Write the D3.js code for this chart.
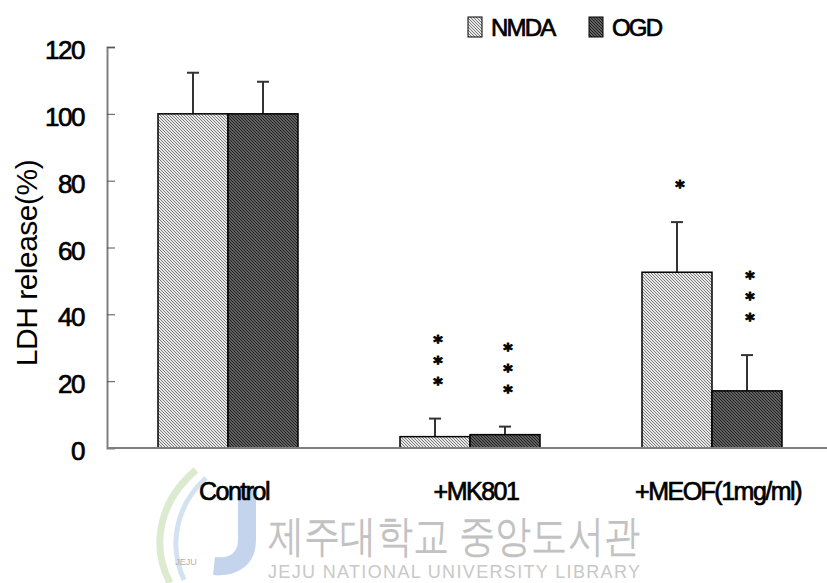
<!DOCTYPE html>
<html>
<head>
<meta charset="utf-8">
<script src="https://cdn.jsdelivr.net/npm/d3@7"></script>
<style>
  body { margin: 0; background: #fff; }
  text { font-family: "Liberation Sans", Arial, sans-serif; fill: #000; }
  .heavy { stroke: #000; stroke-width: 0.7px; }
  .star { font-family: "DejaVu Sans", sans-serif; stroke: #000; stroke-width: 0.9px; }
</style>
</head>
<body>
<script>
// data
let categories = ['Control', '+MK801', '+MEOF(1mg/ml)'];
let seriesNames = ['NMDA', 'OGD'];
let nmdaValues = [100, 3.4, 52.6];
let nmdaErrors = [12.3, 5.4, 15.0];
let ogdValues = [100, 4.0, 17.1];
let ogdErrors = [9.6, 2.4, 10.7];
let nmdaStars = [0, 3, 1];
let ogdStars = [0, 3, 3];
let yTicks = [0, 20, 40, 60, 80, 100, 120];

let svgWidth = 827, svgHeight = 583;
let barWidth = 70;

let svg = d3.select('body').append('svg')
svg.attr('width', svgWidth).attr('height', svgHeight)

// hatch patterns
let defs = svg.append('defs');
function hatch(id, bg, fg) {
    let p = defs.append('pattern').attr('id', id)
        .attr('patternUnits', 'userSpaceOnUse')
        .attr('width', 3).attr('height', 3)
        .attr('shape-rendering', 'crispEdges');
    p.append('rect').attr('width', 3).attr('height', 3).attr('fill', bg);
    [0, 1, 2].forEach(i => {
        p.append('rect').attr('x', i).attr('y', i).attr('width', 1).attr('height', 1).attr('fill', fg);
    });
}
hatch('pNMDA', '#e8e8e8', '#7a7a7a');
hatch('pOGD', '#626262', '#1e1e1e');
let fills = { NMDA: 'url(#pNMDA)', OGD: 'url(#pOGD)' };

// watermark (faint, behind everything)
let wm = svg.append('g');
wm.append('path').attr('d', 'M196,470 C160,500 150,545 170,583')
    .attr('fill', 'none').attr('stroke', '#dcebd0').attr('stroke-width', 7);
wm.append('path').attr('d', 'M206,478 C176,505 168,545 184,580')
    .attr('fill', 'none').attr('stroke', '#d3e2f0').attr('stroke-width', 5);
wm.append('path').attr('d', 'M247,487 L247,540 C247,560 232,568 214,566')
    .attr('fill', 'none').attr('stroke', '#c4d4ec').attr('stroke-width', 18);
wm.append('text').text('JEJU').attr('x', 186).attr('y', 565)
    .attr('font-size', 9).attr('text-anchor', 'middle').style('fill', '#b0b0b0');
wm.append('text').text('제주대학교 중앙도서관')
    .attr('x', 268).attr('y', 551)
    .attr('font-family', '"Noto Sans CJK KR", sans-serif')
    .attr('font-size', 44).attr('textLength', 372)
    .attr('lengthAdjust', 'spacingAndGlyphs')
    .style('fill', '#c2c2c2');
wm.append('text').text('JEJU NATIONAL UNIVERSITY  LIBRARY')
    .attr('x', 268).attr('y', 578)
    .attr('font-size', 18).attr('textLength', 372)
    .style('fill', '#c8c8c8');

let xScale = d3.scaleBand()
    .domain(categories)
    .range([107, 833])

let xSub = d3.scaleBand()
    .domain(seriesNames)
    .range([xScale.bandwidth() / 2 - barWidth, xScale.bandwidth() / 2 + barWidth])

let yScale = d3.scaleLinear()
    .domain([0, 120])
    .range([448, 47])

let rows = [];
categories.forEach((c, i) => {
    rows.push({ cat: c, s: 'NMDA', v: nmdaValues[i], e: nmdaErrors[i], stars: nmdaStars[i] });
    rows.push({ cat: c, s: 'OGD', v: ogdValues[i], e: ogdErrors[i], stars: ogdStars[i] });
});
let cx = d => xScale(d.cat) + xSub(d.s) + xSub.bandwidth() / 2;

// error bars (upper only)
let err = svg.append('g').attr('stroke', '#333').attr('stroke-width', 2);
err.selectAll('line.v').data(rows).enter().append('line')
    .attr('x1', cx).attr('x2', cx)
    .attr('y1', d => yScale(d.v)).attr('y2', d => yScale(d.v + d.e))
err.selectAll('line.c').data(rows).enter().append('line')
    .attr('x1', d => cx(d) - 6).attr('x2', d => cx(d) + 6)
    .attr('y1', d => yScale(d.v + d.e)).attr('y2', d => yScale(d.v + d.e))

// bars
svg.append('g').selectAll('rect').data(rows).enter().append('rect')
    .attr('x', d => xScale(d.cat) + xSub(d.s))
    .attr('y', d => yScale(d.v))
    .attr('width', xSub.bandwidth())
    .attr('height', d => yScale(0) - yScale(d.v))
    .attr('fill', d => fills[d.s])
    .attr('stroke', '#000').attr('stroke-width', 1.5)

// significance stars
let starSize = 18, starGap = 21;
let starList = [];
rows.filter(d => d.stars > 0).forEach(d => {
    d3.range(d.stars).forEach(k => starList.push({ d: d, k: k }));
});
svg.append('g').selectAll('text').data(starList).enter().append('text')
    .text('*')
    .attr('class', 'star')
    .attr('x', s => cx(s.d) + 3)
    .attr('y', s => yScale(s.d.v + s.d.e) - 38 - s.k * starGap + starSize * 0.52)
    .attr('text-anchor', 'middle')
    .attr('font-size', starSize)
    .attr('font-weight', 'bold')

// y axis
let y_axis = d3.axisRight(yScale).tickValues(yTicks).tickSize(8).tickFormat('');
let yg = svg.append('g').attr('transform', 'translate(107,0)').call(y_axis);
yg.select('.domain').attr('stroke', '#808080').attr('stroke-width', 2);
yg.selectAll('.tick line').attr('stroke', '#555');

svg.append('g').selectAll('text').data(yTicks).enter().append('text')
    .text(d => d)
    .attr('class', 'heavy')
    .attr('x', 84)
    .attr('y', d => yScale(d) + 12)
    .attr('text-anchor', 'end')
    .attr('font-size', 26)
    .attr('letter-spacing', -1.5)

// x axis line
svg.append('line')
    .attr('x1', 107).attr('x2', svgWidth)
    .attr('y1', yScale(0)).attr('y2', yScale(0))
    .attr('stroke', '#808080').attr('stroke-width', 2)

svg.append('g').selectAll('text').data(categories).enter().append('text')
    .text(d => d)
    .attr('class', 'heavy')
    .attr('x', d => xScale(d) + xScale.bandwidth() / 2 + 6)
    .attr('y', 500)
    .attr('text-anchor', 'middle')
    .attr('font-size', 25)
    .attr('letter-spacing', -1.5)

// y title
svg.append('text').text('LDH release(%)')
    .attr('transform', 'translate(37,263) rotate(-90)')
    .attr('text-anchor', 'middle')
    .attr('font-size', 30)
    .attr('letter-spacing', -0.5)

// legend
let legendX = [468, 589];
let lg = svg.append('g');
seriesNames.forEach((s, i) => {
    lg.append('rect').attr('x', legendX[i]).attr('y', 17).attr('width', 14).attr('height', 20)
        .attr('fill', fills[s]).attr('stroke', '#000').attr('stroke-width', 1)
    lg.append('text').text(s).attr('class', 'heavy')
        .attr('x', legendX[i] + 23).attr('y', 36)
        .attr('font-size', 24).attr('letter-spacing', -1.8)
});
</script>
</body>
</html>
